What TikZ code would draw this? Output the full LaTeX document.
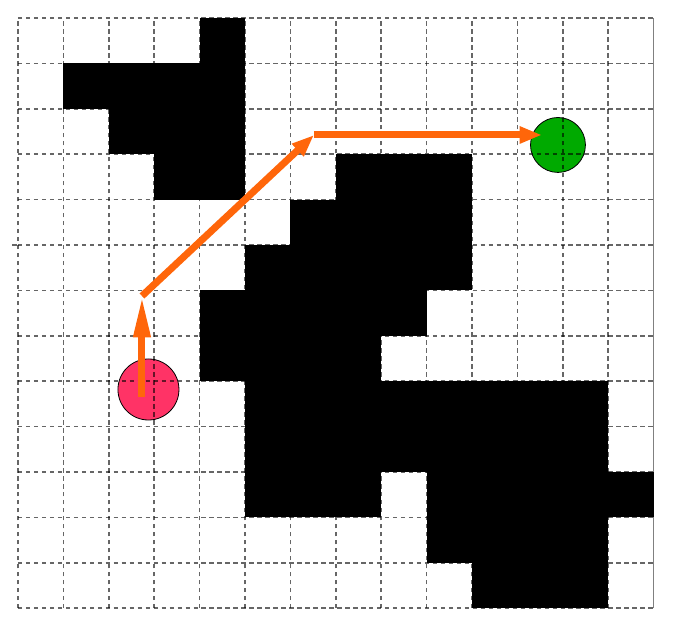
\documentclass[tikz,border=0pt]{standalone}
\usetikzlibrary{arrows.meta}
\definecolor{routeorange}{RGB}{255,102,10}
\definecolor{startred}{RGB}{255,51,102}
\definecolor{goalgreen}{RGB}{0,170,0}
\begin{document}
\begin{tikzpicture}[line join=round,x=1cm,y=1cm,
    gridline/.style={black,opacity=0.6,line width=1pt,dash pattern=on 2.8pt off 2.2pt},
    startpt/.style={circle,draw=black,line width=0.5pt,fill=startred,inner sep=0pt,minimum size=1.344cm},
    goalpt/.style={circle,draw=black,line width=0.5pt,fill=goalgreen,inner sep=0pt,minimum size=1.21cm},
    route/.style={routeorange,line width=4.4pt,line cap=butt}]
	\useasboundingbox (-0.396,-0.546) rectangle (14.846,13.396);
	% start and goal
	\node[startpt] (start) at (2.874,4.817) {};
	\node[goalpt] (goal) at (11.894,10.203) {};
	% grid
	\foreach \x in {0,...,13}
	\draw[gridline] (\x,0) -- (\x,13);
	\foreach \y in {0,...,13}
	\draw[gridline] (0,\y) -- (14,\y);
	\draw[gridline] (-0.13,8) -- (0,8);
	\draw[gray,line width=1pt] (14,0) -- (14,13);
	% obstacles: row/first column/last column
	\foreach \r/\a/\b in {0/4/4,1/1/4,2/2/4,3/3/4,3/7/9,4/6/9,5/5/9,6/4/8,7/4/7,
	                      8/5/12,9/5/12,10/5/7,10/9/13,11/9/12,12/10/12}
	\fill[black] (\a,12-\r) rectangle (\b+1,13-\r);
	% route
	\coordinate (p0) at (2.731,4.652);
	\coordinate (p1) at (2.731,6.877);
	\coordinate (p2) at (6.520,10.423);
	\coordinate (p3) at (11.542,10.423);
	\draw[route,-{Triangle[length=26pt,width=10pt]}] (p0) -- (p1);
	\draw[route,-{Triangle[length=14pt,width=10pt]}] (p1) -- (p2);
	\draw[route,-{Triangle[length=14pt,width=10pt]}] (p2) -- (p3);
\end{tikzpicture}
\end{document}
